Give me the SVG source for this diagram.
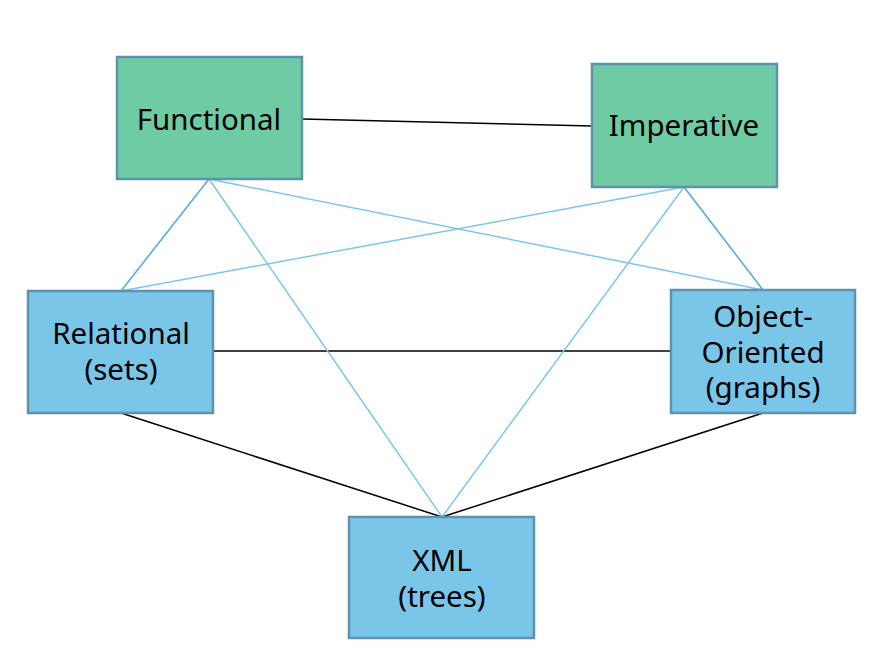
<svg xmlns="http://www.w3.org/2000/svg" width="876" height="666" viewBox="0 0 876 666">
<style>
.bg{fill:#ffffff}
.g rect{fill:#6FCBA3;stroke:#5E93AE;stroke-width:2.5}
.b rect{fill:#7AC6E8;stroke:#5E93AE;stroke-width:2.5}
text{font-family:"Noto Sans","DejaVu Sans",sans-serif;font-size:29.5px;fill:#000;text-anchor:middle}
.k{stroke:#000;stroke-width:1.5;fill:none}
.l{stroke:#7CC6E9;stroke-width:1.5;fill:none}
.d{stroke:#58ACDC;stroke-width:1.6;fill:none}
</style>
<rect class="bg" x="0" y="0" width="876" height="666"/>
<g id="connectors">
<line class="k" x1="302" y1="119" x2="592" y2="126"/>
<line class="k" x1="213" y1="351" x2="671" y2="351"/>
<line class="k" x1="121" y1="413" x2="442" y2="517"/>
<line class="k" x1="763" y1="413" x2="442" y2="517"/>
<line class="d" x1="209" y1="179" x2="121" y2="291"/>
<line class="l" x1="209" y1="179" x2="442" y2="517"/>
<line class="l" x1="209" y1="179" x2="763" y2="290"/>
<line class="l" x1="684" y1="187" x2="121" y2="291"/>
<line class="l" x1="684" y1="187" x2="442" y2="517"/>
<line class="d" x1="684" y1="187" x2="763" y2="290"/>
</g>
<g id="functional" class="g">
<rect x="117" y="57" width="185" height="122"/>
<text x="209" y="130">Functional</text>
</g>
<g id="imperative" class="g">
<rect x="592" y="64" width="185" height="123"/>
<text x="684" y="136">Imperative</text>
</g>
<g id="relational" class="b">
<rect x="28" y="291" width="185" height="122"/>
<text x="121" y="344">Relational</text>
<text x="121" y="380">(sets)</text>
</g>
<g id="object-oriented" class="b">
<rect x="671" y="290" width="184" height="123"/>
<text x="763" y="327">Object-</text>
<text x="763" y="363">Oriented</text>
<text x="763" y="398">(graphs)</text>
</g>
<g id="xml" class="b">
<rect x="349" y="517" width="185" height="121"/>
<text x="442" y="571">XML</text>
<text x="442" y="607">(trees)</text>
</g>
</svg>
